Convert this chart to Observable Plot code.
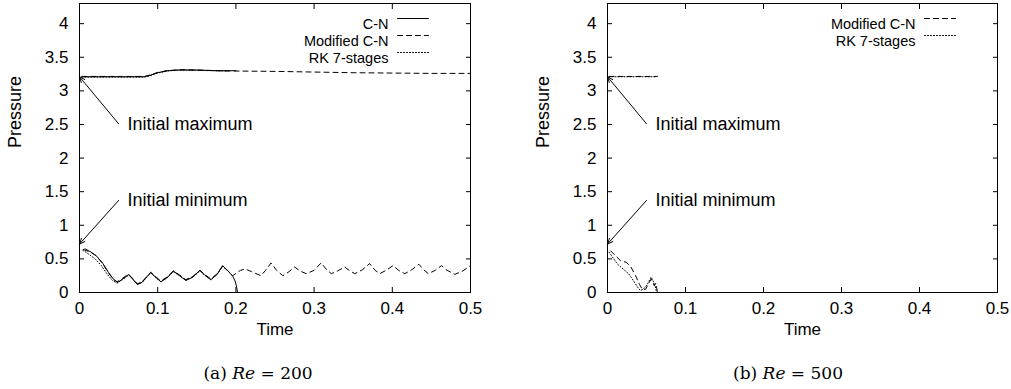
<!DOCTYPE html>
<html>
<head>
<meta charset="utf-8">
<script src="https://cdn.jsdelivr.net/npm/d3@7"></script>
<script src="https://cdn.jsdelivr.net/npm/@observablehq/plot@0.6"></script>
<style>
  html, body { margin: 0; padding: 0; background: #fff; }
  #wrap { position: relative; width: 1011px; height: 389px; overflow: hidden; }
  .panel { position: absolute; top: 0; }
  .cap { position: absolute; top: 363px; width: 240px; text-align: center;
         font-family: "DejaVu Serif", "Liberation Serif", serif; font-size: 17px; color: #000; }
  .cap i { font-style: italic; }
</style>
</head>
<body>
<div id="wrap">
  <div class="panel" id="pa" style="left:0px"></div>
  <div class="panel" id="pb" style="left:505px"></div>
  <div class="cap" style="left:138px">(a)&nbsp;<i>Re</i> = 200</div>
  <div class="cap" style="left:668px">(b)&nbsp;<i>Re</i> = 500</div>
</div>
<script>
// ---- axis ticks ----
const xTicks = [0, 0.1, 0.2, 0.3, 0.4, 0.5];
const yTicks = [0, 0.5, 1, 1.5, 2, 2.5, 3, 3.5, 4];
const xDomain = [0, 0.5];
const yDomain = [0, 4.3];
const xLabel = "Time";
const yLabel = "Pressure";

// ---- legend entries ----
const legendA = ["C-N", "Modified C-N", "RK 7-stages"];
const legendB = ["Modified C-N", "RK 7-stages"];

// ---- annotations [tailTime, tailPressure, headTime, headPressure, label] ----
const annotMax = [0.05, 2.51, 0, 3.21, "Initial maximum"];
const annotMin = [0.05, 1.37, 0, 0.72, "Initial minimum"];

// ---- Re = 200 : maximum pressure [time, pressure] ----
const cnMax200 = [[0.003,3.21],[0.05,3.21],[0.083,3.21],[0.09,3.23],[0.1,3.27],[0.112,3.30],[0.125,3.31],[0.15,3.31],[0.175,3.30],[0.2,3.30]];
const mcnMax200 = [[0.003,3.215],[0.05,3.215],[0.083,3.215],[0.09,3.235],[0.1,3.275],[0.112,3.30],[0.13,3.315],[0.15,3.31],[0.18,3.30],[0.2,3.295],[0.25,3.29],[0.3,3.28],[0.35,3.27],[0.4,3.265],[0.45,3.26],[0.5,3.26]];
const rkMax200 = [[0.003,3.205],[0.05,3.205],[0.083,3.205],[0.09,3.225],[0.1,3.265],[0.112,3.295],[0.13,3.31],[0.15,3.305],[0.19,3.295]];

// ---- Re = 200 : minimum pressure ----
const cnMin200 = [[0.007,0.65],[0.015,0.60],[0.022,0.54],[0.03,0.43],[0.037,0.30],[0.044,0.19],[0.049,0.15],[0.055,0.20],[0.063,0.27],[0.068,0.20],[0.074,0.12],[0.08,0.15],[0.091,0.30],[0.098,0.22],[0.104,0.16],[0.112,0.22],[0.12,0.32],[0.128,0.25],[0.136,0.18],[0.145,0.23],[0.154,0.33],[0.16,0.26],[0.168,0.19],[0.176,0.27],[0.183,0.40],[0.19,0.32],[0.196,0.24],[0.199,0.17],[0.201,0.08],[0.202,0.0]];
const mcnMin200 = [[0.005,0.64],[0.014,0.60],[0.021,0.55],[0.029,0.44],[0.036,0.31],[0.043,0.20],[0.048,0.16],[0.055,0.21],[0.062,0.27],[0.068,0.21],[0.074,0.13],[0.08,0.16],[0.091,0.30],[0.098,0.23],[0.104,0.17],[0.112,0.23],[0.12,0.32],[0.128,0.26],[0.136,0.19],[0.145,0.24],[0.154,0.33],[0.16,0.27],[0.168,0.20],[0.176,0.28],[0.183,0.39],[0.19,0.32],[0.196,0.25],[0.202,0.30],[0.206,0.33],[0.212,0.35],[0.22,0.31],[0.232,0.25],[0.238,0.33],[0.245,0.44],[0.252,0.33],[0.26,0.25],[0.268,0.31],[0.275,0.38],[0.282,0.32],[0.29,0.28],[0.30,0.33],[0.309,0.44],[0.316,0.34],[0.322,0.28],[0.33,0.32],[0.339,0.38],[0.346,0.32],[0.352,0.28],[0.362,0.34],[0.371,0.43],[0.378,0.33],[0.384,0.28],[0.392,0.33],[0.401,0.40],[0.408,0.33],[0.416,0.28],[0.425,0.34],[0.434,0.42],[0.44,0.34],[0.446,0.28],[0.455,0.33],[0.463,0.40],[0.47,0.33],[0.48,0.27],[0.49,0.32],[0.5,0.40]];
const rkMin200 = [[0.004,0.63],[0.012,0.57],[0.02,0.50],[0.028,0.40],[0.035,0.28],[0.042,0.18],[0.048,0.14],[0.055,0.19],[0.063,0.26],[0.068,0.20],[0.074,0.12],[0.08,0.15],[0.091,0.29],[0.098,0.22],[0.104,0.16],[0.112,0.22],[0.12,0.31],[0.128,0.25],[0.136,0.18],[0.145,0.23],[0.154,0.32],[0.16,0.26],[0.168,0.19],[0.176,0.27],[0.183,0.39],[0.19,0.32]];

// ---- Re = 500 ----
const mcnMax500 = [[0.002,3.215],[0.03,3.215],[0.064,3.215]];
const rkMax500 = [[0.002,3.21],[0.03,3.21],[0.062,3.21]];
const mcnMin500 = [[0.004,0.62],[0.01,0.55],[0.017,0.47],[0.024,0.45],[0.03,0.38],[0.036,0.25],[0.041,0.12],[0.045,0.04],[0.049,0.05],[0.053,0.14],[0.056,0.20],[0.058,0.16],[0.06,0.10],[0.062,0.14],[0.064,0.0]];
const rkMin500 = [[0.002,0.60],[0.008,0.50],[0.013,0.42],[0.02,0.35],[0.027,0.28],[0.033,0.18],[0.038,0.09],[0.042,0.03],[0.046,0.05],[0.051,0.12],[0.056,0.23],[0.059,0.16],[0.061,0.10],[0.063,0.0]];

// ---- styles ----
const DASH = {"C-N": null, "Modified C-N": "5,4", "RK 7-stages": "1,2"};
const FONT = "'Liberation Sans', Arial, Helvetica, sans-serif";
const hline = {draw(ctx, l) { ctx.moveTo(0, 0); ctx.lineTo(l, 0); }};

function panel(el, marginLeft, marginRight, series, legend) {
  const lineMarks = series.map(([data, name]) =>
    Plot.line(data, {x: d => d[0], y: d => d[1], stroke: "#000", strokeWidth: 1,
      strokeDasharray: DASH[name]}));
  const legendMarks = legend.flatMap((name, i) => [
    Plot.text([name], {frameAnchor: "top-right", dx: -82, dy: 15 + 17 * i, textAnchor: "end", fontSize: 14.5, fill: "#000"}),
    Plot.vector([name], {frameAnchor: "top-right", dx: -73, dy: 15 + 17 * i, length: 31, anchor: "start",
      shape: hline, stroke: "#000", strokeWidth: 1, strokeDasharray: DASH[name]})
  ]);
  const annots = [annotMax, annotMin];
  const chart = Plot.plot({
    width: 505, height: 345,
    marginLeft, marginRight, marginTop: 3, marginBottom: 53,
    style: {fontFamily: FONT, fontSize: "17px", color: "#000", background: "#fff"},
    x: {domain: xDomain},
    y: {domain: yDomain},
    marks: [
      Plot.axisX(xTicks, {anchor: "bottom", tickSize: -5, tickPadding: 14, tickFormat: d => String(d), label: null}),
      Plot.axisX(xTicks, {anchor: "top", tickSize: -5, fill: "none", label: null}),
      Plot.axisY(yTicks, {anchor: "left", tickSize: -5, tickPadding: 16, tickFormat: d => String(d), label: null}),
      Plot.axisY(yTicks, {anchor: "right", tickSize: -5, fill: "none", label: null}),
      Plot.frame({stroke: "#000", strokeWidth: 1}),
      ...lineMarks,
      Plot.arrow(annots, {x1: d => d[0], y1: d => d[1], x2: d => d[2], y2: d => d[3],
        stroke: "#000", strokeWidth: 1, headLength: 9, headAngle: 45}),
      Plot.text(annots, {x: d => d[0] + 0.0115, y: d => d[1], text: d => d[4], textAnchor: "start", fontSize: 18, fill: "#000"}),
      ...legendMarks,
      Plot.text([xLabel], {frameAnchor: "bottom", dy: 42, fontSize: 17, fill: "#000"}),
      Plot.text([yLabel], {frameAnchor: "left", dx: -64, rotate: -90, fontSize: 18, fill: "#000"})
    ]
  });
  document.getElementById(el).appendChild(chart);
}

panel("pa", 79, 35,
  [[cnMax200, "C-N"], [mcnMax200, "Modified C-N"], [rkMax200, "RK 7-stages"],
   [cnMin200, "C-N"], [mcnMin200, "Modified C-N"], [rkMin200, "RK 7-stages"]],
  legendA);
panel("pb", 102, 13,
  [[mcnMax500, "Modified C-N"], [rkMax500, "RK 7-stages"],
   [mcnMin500, "Modified C-N"], [rkMin500, "RK 7-stages"]],
  legendB);
</script>
</body>
</html>
